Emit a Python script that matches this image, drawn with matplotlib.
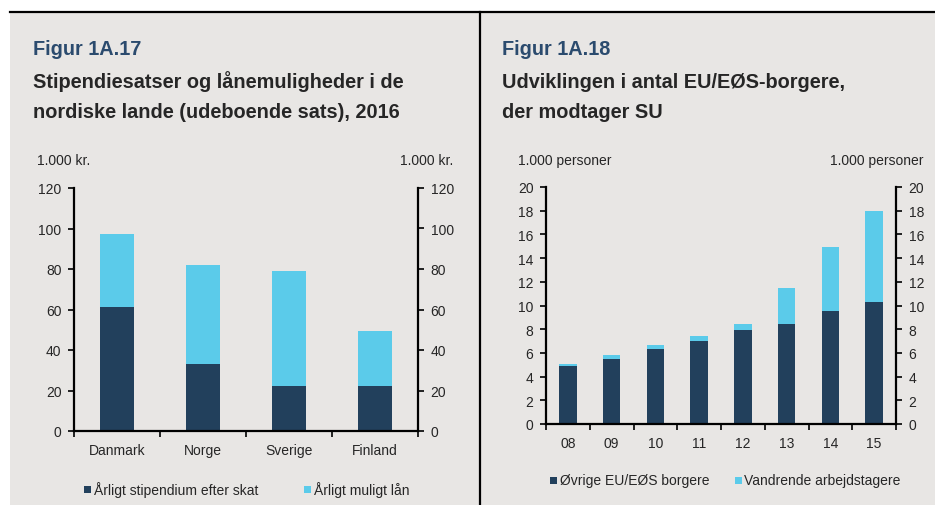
import matplotlib
matplotlib.use("Agg")
import matplotlib.pyplot as plt
from matplotlib.patches import Rectangle
import numpy as np

plt.rcParams['font.family'] = ['Liberation Sans', 'DejaVu Sans']

# ---- data ----
countries = ["Danmark", "Norge", "Sverige", "Finland"]
stipend = [61, 33, 22.3, 22.3]
loan = [36.5, 49, 56.5, 27]

years = ["08", "09", "10", "11", "12", "13", "14", "15"]
ovrige = [4.9, 5.5, 6.3, 7.0, 7.9, 8.45, 9.5, 10.3]
vandrende = [0.2, 0.3, 0.4, 0.45, 0.5, 3.0, 5.45, 7.7]

left_yticks = [0, 20, 40, 60, 80, 100, 120]
right_yticks = [0, 2, 4, 6, 8, 10, 12, 14, 16, 18, 20]

DARK = "#22405C"
LIGHT = "#5BCBEA"
BG = "#E8E6E4"
TXT = "#262626"
TITLE_BLUE = "#2B4B6E"

W, H = 935, 506
fig = plt.figure(figsize=(W / 100, H / 100), dpi=100)
fig.patch.set_facecolor("white")

def fx(x):
    return x / W

def fy(y):
    return 1 - y / H

# panel background
bg = Rectangle((fx(10), 0), 1 - fx(10), fy(13), transform=fig.transFigure,
               facecolor=BG, edgecolor="none", zorder=-10)
fig.patches.append(bg)
# top line and separator
fig.add_artist(plt.Line2D([fx(10), 1], [fy(13), fy(13)], transform=fig.transFigure,
                          color="black", lw=1.6))
fig.add_artist(plt.Line2D([fx(479.5), fx(479.5)], [0, fy(13)], transform=fig.transFigure,
                          color="black", lw=1.6))


def make_axes(x0, y0, x1, y1, cats, bottom_vals, top_vals, ymax, yticks):
    ax = fig.add_axes([fx(x0), fy(y1), fx(x1 - x0), (y1 - y0) / H], zorder=5)
    ax.set_facecolor("none")
    n = len(cats)
    x = np.arange(n)
    ax.bar(x, bottom_vals, width=0.4, color=DARK, zorder=2)
    ax.bar(x, top_vals, width=0.4, bottom=bottom_vals, color=LIGHT, zorder=2)
    ax.set_xlim(-0.5, n - 0.5)
    ax.set_ylim(0, ymax)
    ax.set_yticks(yticks)
    ax.set_xticks(np.arange(n + 1) - 0.5)
    ax.set_xticklabels([])
    ax.set_xticks(x, minor=True)
    ax.set_xticklabels(cats, minor=True)
    ax.tick_params(axis="x", which="major", length=4, width=1.2, direction="out", color="black")
    ax.tick_params(axis="x", which="minor", length=0, pad=9, labelsize=10, labelcolor=TXT)
    ax.tick_params(axis="y", length=4, width=1.2, direction="out", pad=5,
                   labelsize=10, labelcolor=TXT, color="black")
    ax.spines["top"].set_visible(False)
    ax.spines["right"].set_visible(False)
    for s in ["left", "bottom"]:
        ax.spines[s].set_linewidth(1.6)
    ax2 = ax.twinx()
    ax2.set_ylim(0, ymax)
    ax2.set_yticks(yticks)
    ax2.tick_params(axis="y", length=4, width=1.2, direction="out", pad=5,
                    labelsize=10, labelcolor=TXT, color="black")
    for s in ["top", "left", "bottom"]:
        ax2.spines[s].set_visible(False)
    ax2.spines["right"].set_linewidth(1.6)
    return ax


make_axes(74, 189, 418, 432, countries, stipend, loan, 120, left_yticks)
make_axes(546, 188, 896, 425, years, ovrige, vandrende, 20, right_yticks)

# titles
TS = 14.3
fig.text(fx(33), fy(55), "Figur 1A.17", fontsize=TS, fontweight="bold", color=TITLE_BLUE, va="baseline")
fig.text(fx(33), fy(87.5), "Stipendiesatser og lånemuligheder i de", fontsize=TS,
         fontweight="bold", color=TXT, va="baseline")
fig.text(fx(33), fy(118), "nordiske lande (udeboende sats), 2016", fontsize=TS,
         fontweight="bold", color=TXT, va="baseline")

fig.text(fx(502), fy(55), "Figur 1A.18", fontsize=TS, fontweight="bold", color=TITLE_BLUE, va="baseline")
fig.text(fx(502), fy(87.5), "Udviklingen i antal EU/EØS-borgere,", fontsize=TS,
         fontweight="bold", color=TXT, va="baseline")
fig.text(fx(502), fy(118), "der modtager SU", fontsize=TS,
         fontweight="bold", color=TXT, va="baseline")

# unit labels
fig.text(fx(37), fy(161), "1.000 kr.", fontsize=10, color=TXT, va="center", ha="left")
fig.text(fx(453), fy(161), "1.000 kr.", fontsize=10, color=TXT, va="center", ha="right")
fig.text(fx(518), fy(161), "1.000 personer", fontsize=10, color=TXT, va="center", ha="left")
fig.text(fx(923), fy(161), "1.000 personer", fontsize=10, color=TXT, va="center", ha="right")

# legends
def legend_item(x, y, color, label):
    s = 7
    fig.patches.append(Rectangle((fx(x), fy(y + s / 2)), s / W, s / H, transform=fig.transFigure,
                                 facecolor=color, edgecolor="none"))
    fig.text(fx(x + s + 2.5), fy(y), label, fontsize=10, color=TXT, va="center", ha="left")

legend_item(84, 490, DARK, "Årligt stipendium efter skat")
legend_item(304, 490, LIGHT, "Årligt muligt lån")
legend_item(550, 481, DARK, "Øvrige EU/EØS borgere")
legend_item(735, 481, LIGHT, "Vandrende arbejdstagere")

fig.savefig("out.png", dpi=100, facecolor=fig.get_facecolor())
